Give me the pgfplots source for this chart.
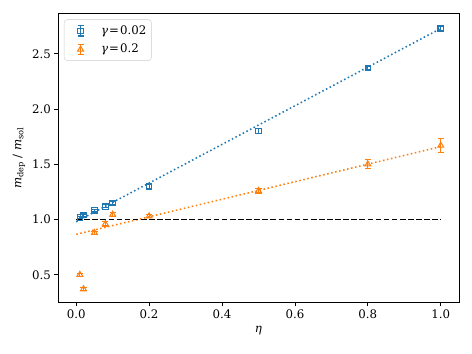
\documentclass[border=0pt]{standalone}
\usepackage{fontspec}
\setmainfont{DejaVu Serif}
\usepackage{pgfplots}
\usepackage{pgfplotstable}
\pgfplotsset{compat=1.18}

\definecolor{mplblue}{HTML}{1F77B4}
\definecolor{mplorange}{HTML}{FF7F0E}

% eta, m_dep/m_sol, error
\pgfplotstableread{
x     y      err
0.01  1.02   0.010
0.02  1.04   0.010
0.05  1.08   0.012
0.08  1.12   0.012
0.10  1.15   0.012
0.20  1.30   0.015
0.50  1.80   0.020
0.80  2.37   0.015
1.00  2.73   0.015
}\lowgamma
\pgfplotstableread{
x     y      err
0.01  0.50   0.015
0.02  0.37   0.012
0.05  0.88   0.015
0.08  0.96   0.020
0.10  1.045  0.020
0.20  1.03   0.015
0.50  1.26   0.025
0.80  1.50   0.040
1.00  1.67   0.065
}\highgamma

\begin{document}
\begin{tikzpicture}[font=\fontsize{11.5}{13.5}\selectfont]
\useasboundingbox (-56.6pt,-49.8pt) rectangle (404.2pt,295.7pt);
\begin{axis}[
    at={(0,0)}, anchor=south west,
    scale only axis,
    width=391.5pt, height=283pt,
    xmin=-0.05, xmax=1.05,
    ymin=0.245, ymax=2.87,
    xtick={0,0.2,...,1.0},
    ytick={0.5,1.0,...,2.5},
    /pgf/number format/assume math mode=true,
    xticklabel style={/pgf/number format/.cd, fixed, fixed zerofill, precision=1},
    yticklabel style={/pgf/number format/.cd, fixed, fixed zerofill, precision=1},
    tick align=outside, tick pos=left,
    major tick length=3.5pt,
    every tick/.style={black, line width=0.8pt},
    axis line style={line width=0.8pt},
    xlabel={\textit{η}},
    ylabel={\textit{m}\textsubscript{dep}\ /\ \textit{m}\textsubscript{sol}},
    legend style={at={(0.015,0.978)}, anchor=north west,
        draw=black!20, rounded corners=3pt, fill=white, fill opacity=0.8,
        text opacity=1, row sep=4pt, column sep=0pt,
        inner xsep=3pt, inner ysep=4pt,
        nodes={inner sep=2pt}},
    legend cell align=left,
]
% fitted lines and reference
\addplot[mplblue, line width=1.5pt, dash pattern=on 1.5pt off 2.5pt, forget plot]
    coordinates {(0,0.98) (1,2.73)};
\addplot[mplorange, line width=1.5pt, dash pattern=on 1.5pt off 2.5pt, forget plot]
    coordinates {(0,0.866) (1,1.66)};
\addplot[black, line width=1.6pt, dash pattern=on 5.5pt off 2.4pt, forget plot]
    coordinates {(0,1) (1,1)};

\addplot[mplblue, only marks, mark=square, mark size=2.7pt,
    mark options={line width=1pt}, forget plot,
    error bars/.cd, y dir=both, y explicit,
    error bar style={line width=1pt},
    error mark options={rotate=90, mark size=3pt, line width=1pt},
    ] table[x=x, y=y, y error=err] {\lowgamma};
\addplot[mplorange, only marks, mark=triangle, mark size=3.3pt,
    mark options={line width=1pt}, forget plot,
    error bars/.cd, y dir=both, y explicit,
    error bar style={line width=1pt},
    error mark options={rotate=90, mark size=3pt, line width=1pt},
    ] table[x=x, y=y, y error=err] {\highgamma};

\addlegendimage{legend image code/.code={
    \path[draw=none] (0pt,0pt) -- (31pt,0pt);
    \draw[mplblue, line width=1pt] (13pt,-5pt) -- (13pt,5pt)
        (10pt,-5pt) -- (16pt,-5pt) (10pt,5pt) -- (16pt,5pt);
    \draw[mplblue, line width=1pt] plot[mark=square, mark size=2.7pt] coordinates {(13pt,0pt)};
  }}
\addlegendentry{\textit{γ}\kern1pt=\kern1pt0.02}
\addlegendimage{legend image code/.code={
    \path[draw=none] (0pt,0pt) -- (31pt,0pt);
    \draw[mplorange, line width=1pt] (13pt,-5pt) -- (13pt,5pt)
        (10pt,-5pt) -- (16pt,-5pt) (10pt,5pt) -- (16pt,5pt);
    \draw[mplorange, line width=1pt] plot[mark=triangle, mark size=3.3pt] coordinates {(13pt,0pt)};
  }}
\addlegendentry{\textit{γ}\kern1pt=\kern1pt0.2}
\end{axis}
\end{tikzpicture}
\end{document}
